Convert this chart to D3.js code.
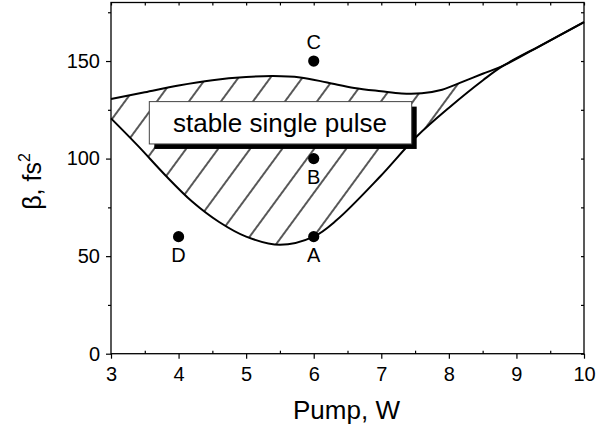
<!DOCTYPE html>
<html><head><meta charset="utf-8">
<script src="https://cdn.jsdelivr.net/npm/d3@7"></script>
<style>
body{margin:0;background:#fff}
svg{display:block}
text{font-family:Arial,"Liberation Sans",Helvetica,sans-serif;fill:#000}
</style>
</head><body>
<svg id="chart" width="597" height="433"></svg>
<script>
// ---- data ----
const upperX = [3, 3.5, 4, 4.5, 5, 5.4, 5.8, 6.2, 6.6, 7, 7.3, 7.6, 7.9, 8.2, 8.5, 8.8, 9.4, 10];
const upperY = [130.5, 134, 137.5, 140.2, 141.8, 142.3, 141.6, 139, 136.2, 134.5, 133.4, 133.5, 135.3, 139.3, 143.5, 147.5, 158.7, 170];
const lowerX = [3, 3.4, 3.8, 4.2, 4.6, 5.0, 5.5, 6, 6.34, 6.98, 7.52, 8.02, 8.51, 8.8, 9.4, 10];
const lowerY = [120.6, 106.5, 91.6, 78, 67.5, 60, 55.8, 60, 68.5, 90.7, 111.2, 126.6, 140.3, 147.5, 158.7, 170];
const joinX = 8.8;
const pointLabels = ["A", "B", "C", "D"];
const pointX = [6, 6, 6, 4];
const pointY = [60, 100, 150, 60];
const labelSide = ["below", "below", "above", "below"];
const xTicks = [3, 4, 5, 6, 7, 8, 9, 10];
const xMinor = [3.5, 4.5, 5.5, 6.5, 7.5, 8.5, 9.5];
const yTicks = [0, 50, 100, 150];
const yMinor = [25, 75, 125, 175];
const xDomain = [3, 10];
const yDomain = [0, 180];
const annotationText = "stable single pulse";
const annotationBoxX = [3.567, 7.45];
const annotationBoxY = [107.5, 129.2];
const annotationAnchor = [5.5, 113.8];
const xTitle = "Pump, W";

// ---- layout ----
const svg = d3.select("#chart");
const m = {left: 111, right: 13, top: 2.5, bottom: 79.3};
const W = 597, H = 433;
const x = d3.scaleLinear().domain(xDomain).range([m.left, W - m.right]);
const y = d3.scaleLinear().domain(yDomain).range([H - m.bottom, m.top]);

// hatch pattern, anchored so a line passes through point A
const angle = 53.7, period = 25.8;
const defs = svg.append("defs");
const pat = defs.append("pattern")
  .attr("id", "hatch")
  .attr("patternUnits", "userSpaceOnUse")
  .attr("width", 20).attr("height", period)
  .attr("patternTransform", `translate(${x(6)},${y(60)}) rotate(${-angle}) translate(0,${-period/2})`);
pat.append("line").attr("x1", -1).attr("x2", 21).attr("y1", period/2).attr("y2", period/2)
  .attr("stroke", "#000").attr("stroke-width", 1.3);

const upper = upperX.map((d, i) => [d, upperY[i]]);
const lower = lowerX.map((d, i) => [d, lowerY[i]]);
const line = d3.line().x(d => x(d[0])).y(d => y(d[1])).curve(d3.curveCatmullRom.alpha(0.5));

// hatched region
const upArea = upper.filter(d => d[0] <= joinX);
const loArea = lower.filter(d => d[0] <= joinX).slice().reverse();
const areaPath = line(upArea) + "L" + line(loArea).slice(1) + "Z";
svg.append("path").attr("d", areaPath).attr("fill", "url(#hatch)").attr("stroke", "none");

// curves
svg.append("path").attr("d", line(upper)).attr("fill", "none").attr("stroke", "#000").attr("stroke-width", 2);
svg.append("path").attr("d", line(lower)).attr("fill", "none").attr("stroke", "#000").attr("stroke-width", 2);

// axes
const axisStyle = g => {
  g.selectAll(".domain").remove();
  g.selectAll(".tick line").attr("stroke", "#000").attr("stroke-width", 1.2);
  g.selectAll("text").style("font-size", "20px").attr("fill", "#000").style("font-family", "Arial, 'Liberation Sans', sans-serif");
};
svg.append("g").attr("transform", `translate(0,${y(0)})`)
  .call(d3.axisBottom(x).tickValues(xTicks).tickSize(5).tickPadding(8).tickFormat(d3.format("d")).tickSizeOuter(0))
  .call(axisStyle);
svg.append("g").attr("transform", `translate(0,${y(0)})`)
  .call(d3.axisBottom(x).tickValues(xMinor).tickSize(-3).tickFormat("").tickSizeOuter(0))
  .call(axisStyle);
svg.append("g").attr("transform", `translate(${x(3)},0)`)
  .call(d3.axisLeft(y).tickValues(yTicks).tickSize(5).tickPadding(6).tickFormat(d3.format("d")).tickSizeOuter(0))
  .call(axisStyle);
svg.append("g").attr("transform", `translate(${x(3)},0)`)
  .call(d3.axisLeft(y).tickValues(yMinor).tickSize(3).tickFormat("").tickSizeOuter(0))
  .call(axisStyle);
svg.append("g").attr("transform", `translate(0,${y(180)})`)
  .call(d3.axisTop(x).tickValues(xTicks.concat(xMinor)).tickSize(-3).tickFormat("").tickSizeOuter(0))
  .call(axisStyle);
svg.append("g").attr("transform", `translate(${x(10)},0)`)
  .call(d3.axisRight(y).tickValues(yTicks.concat(yMinor)).tickSize(-3).tickFormat("").tickSizeOuter(0))
  .call(axisStyle);

// frame
svg.append("rect").attr("x", x(3)).attr("y", y(180)).attr("width", x(10) - x(3)).attr("height", y(0) - y(180))
  .attr("fill", "none").attr("stroke", "#000").attr("stroke-width", 1.3);

// annotation box with shadow
const bx = x(annotationBoxX[0]), bw = x(annotationBoxX[1]) - x(annotationBoxX[0]);
const by = y(annotationBoxY[1]), bh = y(annotationBoxY[0]) - y(annotationBoxY[1]);
svg.append("rect").attr("x", bx + 5).attr("y", by + 5).attr("width", bw).attr("height", bh).attr("fill", "#000");
svg.append("rect").attr("x", bx).attr("y", by).attr("width", bw).attr("height", bh)
  .attr("fill", "#fff").attr("stroke", "#444").attr("stroke-width", 1);
svg.append("text").attr("x", x(annotationAnchor[0])).attr("y", y(annotationAnchor[1]))
  .attr("text-anchor", "middle").style("font-size", "26px").text(annotationText);

// points
svg.selectAll("circle.pt").data(pointX).enter().append("circle")
  .attr("class", "pt").attr("cx", (d, i) => x(d)).attr("cy", (d, i) => y(pointY[i])).attr("r", 5.6).attr("fill", "#000");
svg.selectAll("text.pl").data(pointLabels).enter().append("text")
  .attr("class", "pl").attr("text-anchor", "middle")
  .attr("x", (d, i) => x(pointX[i]))
  .attr("y", (d, i) => y(pointY[i]) + (labelSide[i] === "above" ? -12.5 : 25))
  .style("font-size", "20px").text(d => d);

// axis titles
svg.append("text").attr("x", 346.5).attr("y", 419).attr("text-anchor", "middle").style("font-size", "26px").text(xTitle);
const yt = svg.append("text").attr("transform", "translate(41,181.5) rotate(-90)").attr("text-anchor", "middle").style("font-size", "25px");
yt.append("tspan").text("β, fs");
yt.append("tspan").attr("dy", -11).style("font-size", "16px").text("2");
</script>
</body></html>
